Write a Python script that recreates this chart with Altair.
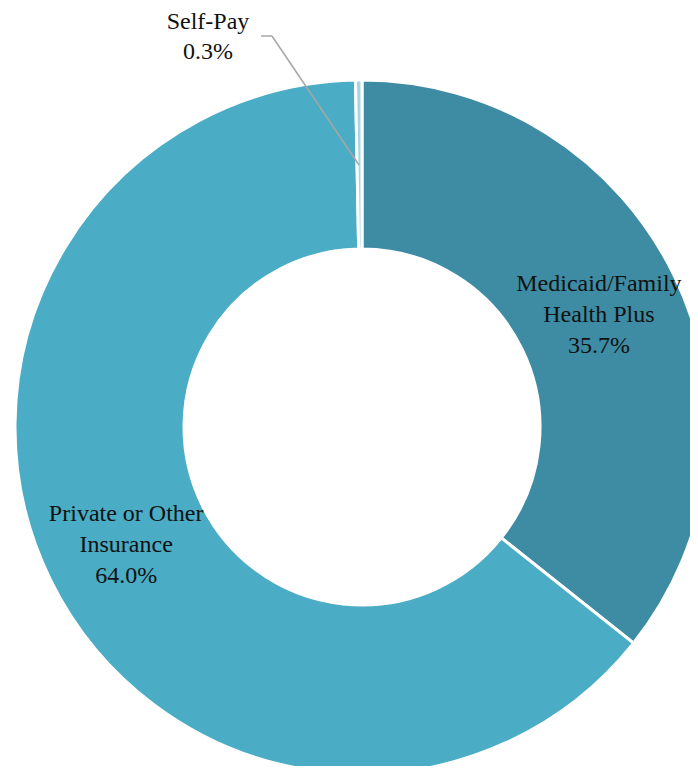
import altair as alt
import pandas as pd

categories = ["Medicaid/Family Health Plus", "Private or Other Insurance", "Self-Pay"]
values = [35.7, 64.0, 0.3]
labels = ["Medicaid/Family\nHealth Plus\n35.7%", "Private or Other\nInsurance\n64.0%", ""]
order = [0, 1, 2]
colors = ["#3D8CA3", "#4AACC5", "#A9D5E2"]

selfpay_label = "Self-Pay\n0.3%"

df = pd.DataFrame({"category": categories, "value": values, "label": labels, "order": order})

CX, CY = 354, 419
FONT = "Liberation Serif"

base = alt.Chart(df).encode(
    theta=alt.Theta("value:Q", stack=True),
    order=alt.Order("order:Q"),
    x=alt.value(CX),
    y=alt.value(CY),
)

arcs = base.mark_arc(outerRadius=347, innerRadius=178, stroke="white", strokeWidth=3).encode(
    color=alt.Color("category:N", scale=alt.Scale(domain=categories, range=colors), legend=None)
)

texts = base.mark_text(radius=263, dy=-29, font=FONT, fontSize=24, lineBreak="\n", lineHeight=31,
                       align="center", baseline="middle", color="#111111").encode(
    text="label:N"
)

ann = pd.DataFrame({"t": [selfpay_label]})
sp_text = alt.Chart(ann).mark_text(font=FONT, fontSize=24, lineBreak="\n", lineHeight=30,
                                   align="center", baseline="middle", color="#111111").encode(
    text="t:N", x=alt.value(200), y=alt.value(14)
)

lead1 = alt.Chart(ann).mark_rule(color="#A6A6A6", strokeWidth=1.5).encode(
    x=alt.value(351), y=alt.value(157), x2=alt.value(264), y2=alt.value(28)
)
lead2 = alt.Chart(ann).mark_rule(color="#A6A6A6", strokeWidth=1.5).encode(
    x=alt.value(264), y=alt.value(28), x2=alt.value(253), y2=alt.value(28)
)

chart = alt.layer(arcs, texts, lead1, lead2, sp_text).properties(
    width=682, height=758, padding=0, autosize=alt.AutoSizeParams(type="none")
).configure_view(stroke=None)

chart.save("out.html", embed_options={"renderer": "svg", "actions": False})
